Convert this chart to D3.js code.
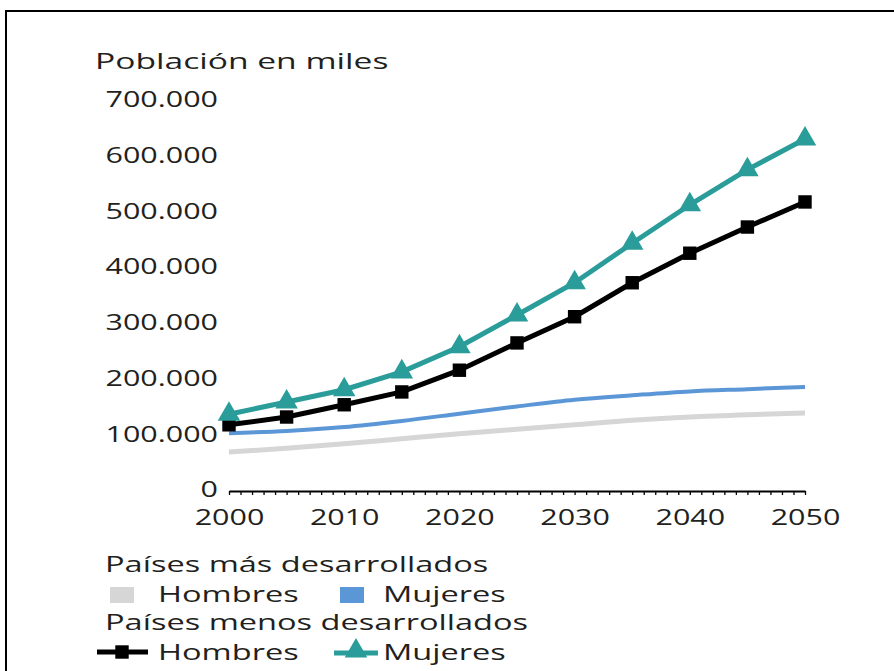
<!DOCTYPE html>
<html>
<head>
<meta charset="utf-8">
<script src="https://cdn.jsdelivr.net/npm/d3@7"></script>
<style>
  body { margin: 0; background: #fff; }
  text { font-family: "Open Sans", sans-serif; fill: #231f20; }
</style>
</head>
<body>
<div id="chart"></div>
<script>
// Years with a value (every 5 years)
var years = [2000, 2005, 2010, 2015, 2020, 2025, 2030, 2035, 2040, 2045, 2050];

// Population in thousands
var masHombres   = [68000, 75000, 83000, 92000, 101000, 109000, 117000, 125000, 131000, 135000, 138000];
var masMujeres   = [102000, 106000, 113000, 124000, 137000, 150000, 162000, 170000, 177000, 181000, 185000];
var menosHombres = [117000, 131000, 153000, 176000, 215000, 264000, 311000, 372000, 425000, 472000, 517000];
var menosMujeres = [136000, 158000, 180000, 212000, 257000, 314000, 372000, 443000, 512000, 575000, 630000];

var yTicks = [0, 100000, 200000, 300000, 400000, 500000, 600000, 700000];
var xLabels = [2000, 2010, 2020, 2030, 2040, 2050];

var W = 894, H = 671;

var svg = d3.select("#chart")
  .append("svg")
    .attr("width", W)
    .attr("height", H);

// frame
svg.append("rect")
  .attr("x", 6).attr("y", 11)
  .attr("width", W).attr("height", H)
  .attr("fill", "none")
  .attr("stroke", "#000")
  .attr("stroke-width", 2);

var x = d3.scaleLinear().domain([2000, 2050]).range([229, 805]);
var y = d3.scaleLinear().domain([0, 700000]).range([490, 100]);

var es = d3.formatLocale({decimal: ",", thousands: ".", grouping: [3], currency: ["", ""]});
var fmt = es.format(",d");

// the source type is wide, so stretch the glyphs sideways
function stretch(sel, k) {
  sel.each(function() {
    var w = this.getComputedTextLength();
    d3.select(this)
      .attr("textLength", w * (k || 1.45))
      .attr("lengthAdjust", "spacingAndGlyphs");
  });
}

// Y axis (labels only)
var yAxis = svg.append("g")
  .attr("transform", "translate(229,0)")
  .call(d3.axisLeft(y).tickValues(yTicks).tickSize(0).tickPadding(11).tickFormat(fmt));
yAxis.select(".domain").remove();
yAxis.selectAll("text")
  .style("font-size", "21px")
  .attr("fill", "#231f20")
  .call(stretch);

// X axis, a small tick for every year
var xAxis = svg.append("g")
  .attr("transform", "translate(0,491)")
  .call(d3.axisBottom(x)
    .tickValues(d3.range(2000, 2051))
    .tickSize(4)
    .tickSizeOuter(0)
    .tickPadding(15)
    .tickFormat(function(d) { return xLabels.indexOf(d) >= 0 ? d : ""; }));
xAxis.select(".domain").attr("stroke", "#000").attr("stroke-width", 2);
xAxis.selectAll(".tick line").attr("stroke", "#000").attr("stroke-width", 1.3);
xAxis.selectAll("text")
  .style("font-size", "21px")
  .attr("fill", "#231f20")
  .filter(function(d) { return xLabels.indexOf(d) >= 0; })
  .call(stretch);

// Axis title
svg.append("text")
  .attr("x", 95).attr("y", 69)
  .style("font-size", "21px")
  .text("Población en miles")
  .call(stretch, 1.6);

// Lines
var smooth = d3.line()
  .x(function(d, i) { return x(years[i]); })
  .y(function(d) { return y(d); })
  .curve(d3.curveMonotoneX);

var straight = d3.line()
  .x(function(d, i) { return x(years[i]); })
  .y(function(d) { return y(d); });

svg.append("path").datum(masHombres)
  .attr("d", smooth).attr("fill", "none")
  .attr("stroke", "#d6d6d6").attr("stroke-width", 5);

svg.append("path").datum(masMujeres)
  .attr("d", smooth).attr("fill", "none")
  .attr("stroke", "#5b96d6").attr("stroke-width", 4);

svg.append("path").datum(menosHombres)
  .attr("d", straight).attr("fill", "none")
  .attr("stroke", "#000").attr("stroke-width", 5);

svg.append("path").datum(menosMujeres)
  .attr("d", straight).attr("fill", "none")
  .attr("stroke", "#2a9d9a").attr("stroke-width", 5);

// Markers
var square = d3.symbol().type(d3.symbolSquare).size(180);
var triangle = d3.symbol().type(d3.symbolTriangle).size(220);

svg.selectAll(".sq")
  .data(menosHombres)
  .enter().append("path")
    .attr("class", "sq")
    .attr("d", square)
    .attr("transform", function(d, i) { return "translate(" + x(years[i]) + "," + y(d) + ")"; })
    .attr("fill", "#000");

svg.selectAll(".tri")
  .data(menosMujeres)
  .enter().append("path")
    .attr("class", "tri")
    .attr("d", triangle)
    .attr("transform", function(d, i) { return "translate(" + x(years[i]) + "," + y(d) + ")"; })
    .attr("fill", "#2a9d9a");

// Legend
var legend = svg.append("g");
var LK = 1.55;

legend.append("text").attr("x", 105).attr("y", 572).style("font-size", "21px")
  .text("Países más desarrollados").call(stretch, LK);
legend.append("text").attr("x", 105).attr("y", 630).style("font-size", "21px")
  .text("Países menos desarrollados").call(stretch, LK);

legend.append("rect").attr("x", 110).attr("y", 587).attr("width", 24).attr("height", 16).attr("fill", "#d6d6d6");
legend.append("text").attr("x", 158).attr("y", 602).style("font-size", "21px").text("Hombres").call(stretch, LK);
legend.append("rect").attr("x", 340).attr("y", 587).attr("width", 24).attr("height", 16).attr("fill", "#5b96d6");
legend.append("text").attr("x", 383).attr("y", 602).style("font-size", "21px").text("Mujeres").call(stretch, LK);

legend.append("line").attr("x1", 97).attr("x2", 148).attr("y1", 652).attr("y2", 652)
  .attr("stroke", "#000").attr("stroke-width", 5);
legend.append("path").attr("d", square).attr("transform", "translate(122,652)").attr("fill", "#000");
legend.append("text").attr("x", 158).attr("y", 660).style("font-size", "21px").text("Hombres").call(stretch, LK);

legend.append("line").attr("x1", 334).attr("x2", 378).attr("y1", 653).attr("y2", 653)
  .attr("stroke", "#2a9d9a").attr("stroke-width", 5);
legend.append("path").attr("d", triangle).attr("transform", "translate(356,651)").attr("fill", "#2a9d9a");
legend.append("text").attr("x", 383).attr("y", 660).style("font-size", "21px").text("Mujeres").call(stretch, LK);
</script>
</body>
</html>
